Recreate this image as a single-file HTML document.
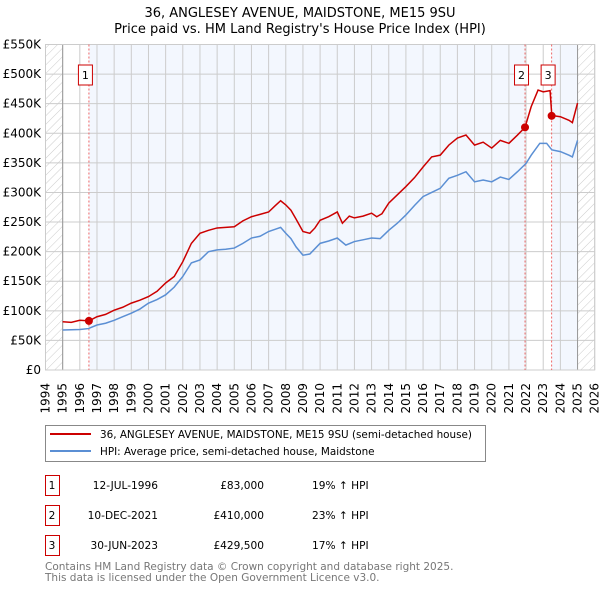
<!DOCTYPE html>
<html><head><meta charset="utf-8"><style>
body{margin:0;background:#fff;}
svg{font-family:"DejaVu Sans","Liberation Sans",sans-serif;display:block;}
</style></head><body>
<svg id="c" width="600" height="590" viewBox="0 0 600 590">
<defs><pattern id="hatch" width="6" height="6" patternUnits="userSpaceOnUse" patternTransform="rotate(45)"><line x1="0" y1="0" x2="0" y2="6" stroke="#ccc" stroke-width="1"/></pattern></defs>
<text x="300" y="17" text-anchor="middle" font-size="13">36, ANGLESEY AVENUE, MAIDSTONE, ME15 9SU</text>
<text x="300" y="33" text-anchor="middle" font-size="13">Price paid vs. HM Land Registry's House Price Index (HPI)</text>
<g id="plot"></g>
<g id="legend">
<rect x="45.5" y="425.5" width="440" height="36" fill="#fff" stroke="#888"/>
<line x1="50" y1="434" x2="91" y2="434" stroke="#cc0000" stroke-width="2"/>
<text x="100" y="438" font-size="10.4">36, ANGLESEY AVENUE, MAIDSTONE, ME15 9SU (semi-detached house)</text>
<line x1="50" y1="451" x2="91" y2="451" stroke="#5b8fd4" stroke-width="2"/>
<text x="100" y="455" font-size="10.4">HPI: Average price, semi-detached house, Maidstone</text>
</g>
<g id="table" font-size="10.6"></g>
<text x="45" y="570" font-size="10.5" fill="#777">Contains HM Land Registry data © Crown copyright and database right 2025.</text>
<text x="45" y="581" font-size="10.5" fill="#777">This data is licensed under the Open Government Licence v3.0.</text>
</svg>
<script>
const yTicks=[0,50000,100000,150000,200000,250000,300000,350000,400000,450000,500000,550000];
const yLabels=["£0","£50K","£100K","£150K","£200K","£250K","£300K","£350K","£400K","£450K","£500K","£550K"];
const years=[1994,1995,1996,1997,1998,1999,2000,2001,2002,2003,2004,2005,2006,2007,2008,2009,2010,2011,2012,2013,2014,2015,2016,2017,2018,2019,2020,2021,2022,2023,2024,2025,2026];
const redT=[1995,1995.5,1996,1996.53,1997,1997.5,1998,1998.5,1999,1999.5,2000,2000.5,2001,2001.5,2002,2002.5,2003,2003.5,2004,2004.5,2005,2005.5,2006,2006.5,2007,2007.4,2007.7,2008,2008.3,2008.6,2009,2009.4,2009.7,2010,2010.5,2011,2011.3,2011.7,2012,2012.5,2013,2013.3,2013.6,2014,2014.5,2015,2015.5,2016,2016.5,2017,2017.5,2018,2018.5,2019,2019.5,2020,2020.5,2021,2021.5,2021.94,2022.3,2022.7,2023,2023.4,2023.5,2024,2024.5,2024.7,2025];
const redV=[81600,80500,84000,83000,90000,94000,101000,106000,113000,118000,124000,133000,147000,158000,183000,214000,231000,236000,240000,241000,242000,252000,259000,263000,267000,278000,286000,279000,270000,255000,234000,231000,240000,253000,259000,267000,248000,260000,257000,260000,265000,259000,264000,282000,296000,310000,325000,343000,360000,363000,380000,392000,397000,380000,385000,375000,388000,383000,397000,410000,445000,473000,470000,472000,430000,428000,422000,418000,451000];
const hpiT=[1995,1995.5,1996,1996.5,1997,1997.5,1998,1998.5,1999,1999.5,2000,2000.5,2001,2001.5,2002,2002.5,2003,2003.5,2004,2004.5,2005,2005.5,2006,2006.5,2007,2007.4,2007.7,2008,2008.3,2008.6,2009,2009.4,2009.7,2010,2010.5,2011,2011.5,2012,2012.5,2013,2013.5,2014,2014.5,2015,2015.5,2016,2016.5,2017,2017.5,2018,2018.5,2019,2019.5,2020,2020.5,2021,2021.5,2022,2022.3,2022.8,2023.2,2023.5,2024,2024.5,2024.7,2025];
const hpiV=[67600,68000,68500,70000,76000,79000,84000,90000,96000,103000,113000,119000,127000,140000,158000,181000,186000,200000,203000,204000,206000,214000,223000,226000,234000,238000,241000,231000,222000,208000,194000,196000,205000,214000,218000,223000,211000,217000,220000,223000,222000,236000,248000,262000,278000,293000,300000,307000,324000,329000,335000,318000,321000,318000,326000,322000,335000,349000,363000,383000,383000,372000,369000,363000,360000,388000];
const saleT=[1996.53,2021.94,2023.49];
const saleV=[83000,410000,429500];
const saleLbl=["1","2","3"];
const saleDate=["12-JUL-1996","10-DEC-2021","30-JUN-2023"];
const salePrice=["£83,000","£410,000","£429,500"];
const saleHpi=["19% ↑ HPI","23% ↑ HPI","17% ↑ HPI"];

const NS="http://www.w3.org/2000/svg";
const X0=45.5,X1=594.7,Y0=370,Y1=44.5;
const x=t=>X0+(t-1994)/32*(X1-X0);
const y=v=>Y0-v/550000*(Y0-Y1);
function mk(tag,attrs,parent){const e=document.createElementNS(NS,tag);for(const k in attrs)e.setAttribute(k,attrs[k]);parent.appendChild(e);return e;}
const g=document.getElementById('plot');
let r=mk('rect',{x:X0,y:Y1,width:X1-X0,height:Y0-Y1,fill:'#fff'},g);


r=mk('rect',{x:x(1994),y:Y1,width:x(1995)-x(1994),height:Y0-Y1,fill:'url(#hatch)'},g);


r=mk('rect',{x:x(2025),y:Y1,width:X1-x(2025),height:Y0-Y1,fill:'url(#hatch)'},g);


r=mk('rect',{x:x(saleT[0]),y:Y1,width:x(saleT[1])-x(saleT[0]),height:Y0-Y1,fill:'#f3f7fe'},g);


r=mk('rect',{x:x(saleT[2]),y:Y1,width:x(2025)-x(saleT[2]),height:Y0-Y1,fill:'#f3f7fe'},g);


years.forEach(yr=>{
  const l=mk('line',{x1:x(yr),x2:x(yr),y1:Y1,y2:Y0,stroke:'#ccc','stroke-width':1},g);
  
  
  const t=mk('text',{transform:`translate(${x(yr)+4},383) rotate(-90)`,'text-anchor':'end','font-size':12},g);
  t.textContent=yr;
  
  
});
yTicks.forEach((v,i)=>{
  const l=mk('line',{x1:X0,x2:X1,y1:y(v),y2:y(v),stroke:'#ccc','stroke-width':1},g);
  
  
  const t=mk('text',{x:41,y:y(v)+4,'text-anchor':'end','font-size':12},g);
  t.textContent=yLabels[i];
  
  
});
r=mk('line',{x1:x(1995),x2:x(1995),y1:Y1,y2:Y0,stroke:'#999'},g);


r=mk('line',{x1:x(2025),x2:x(2025),y1:Y1,y2:Y0,stroke:'#999'},g);


r=mk('rect',{x:X0,y:Y1,width:X1-X0,height:Y0-Y1,fill:'none',stroke:'#ccc'},g);


saleT.forEach((t,i)=>{
  const l=mk('line',{x1:x(t),x2:x(t),y1:Y1,y2:Y0,stroke:'#ee6666','stroke-dasharray':'2,2'},g);
  
  
  const bx=x(t)-10.5;
  const b=mk('rect',{x:bx,y:65,width:14,height:20,fill:'#fff',stroke:'#cc0000'},g);
  
  
  const tx=mk('text',{x:bx+7,y:79,'text-anchor':'middle','font-size':11},g);
  tx.textContent=saleLbl[i];
  
  
});
const hp=mk('polyline',{points:hpiT.map((t,i)=>x(t)+','+y(hpiV[i])).join(' '),fill:'none',stroke:'#5b8fd4','stroke-width':1.5},g);


const rp=mk('polyline',{points:redT.map((t,i)=>x(t)+','+y(redV[i])).join(' '),fill:'none',stroke:'#cc0000','stroke-width':1.5},g);


saleT.forEach((t,i)=>{
  const c=mk('circle',{cx:x(t),cy:y(saleV[i]),r:4,fill:'#cc0000'},g);
  
  
});
const tb=document.getElementById('table');
saleT.forEach((t,i)=>{
  const yy=475+i*30;
  const b=mk('rect',{x:45.5,y:yy+0.5,width:14,height:20,fill:'#fff',stroke:'#cc0000'},tb);
  
  
  const vals=[[saleLbl[i],52,'middle'],[saleDate[i],158,'end'],[salePrice[i],264,'end'],[saleHpi[i],312,'start']];
  vals.forEach(v=>{
    const tx=mk('text',{x:v[1],y:yy+14,'text-anchor':v[2]},tb);
    tx.textContent=v[0];
    
    
  });
});
</script>
</body></html>
